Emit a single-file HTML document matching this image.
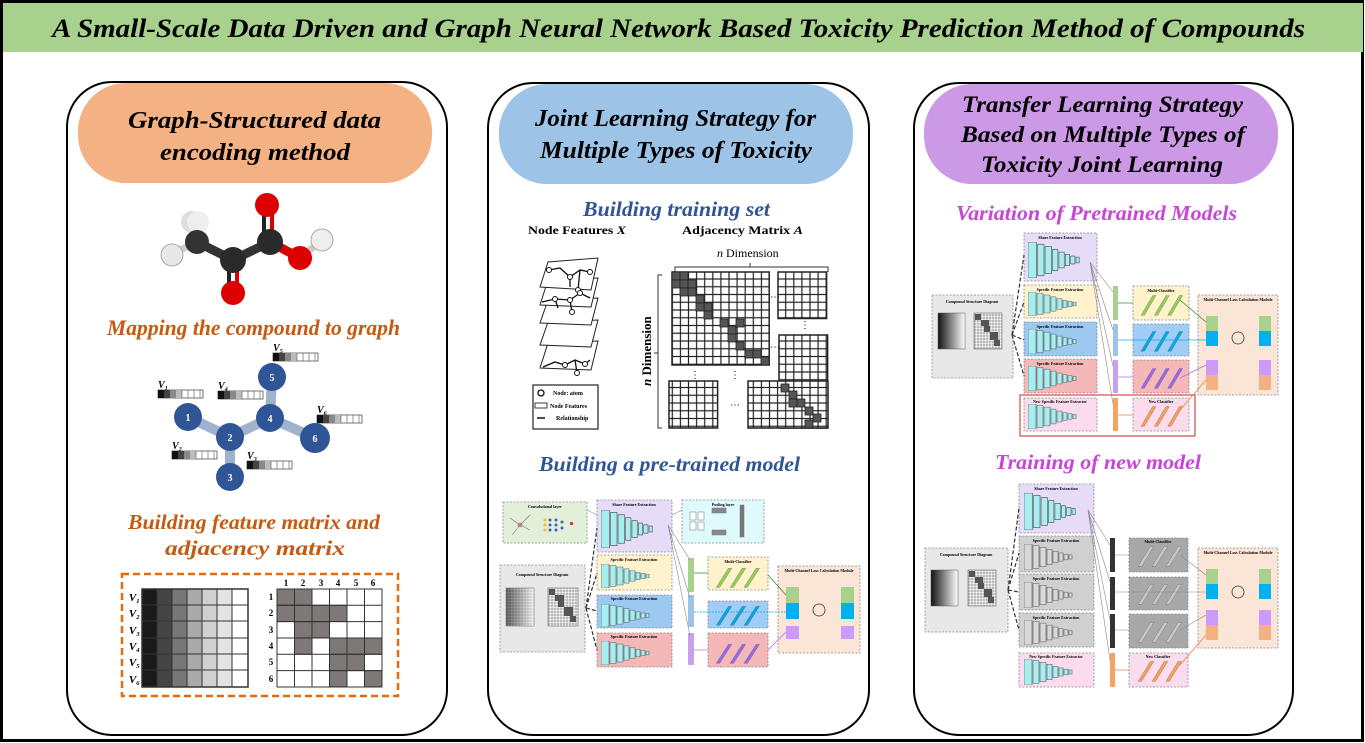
<!DOCTYPE html>
<html><head><meta charset="utf-8"><style>
html,body{margin:0;padding:0;background:#fff;width:1365px;height:743px;overflow:hidden}
svg{display:block}
.t{font-family:"Liberation Serif",serif;font-weight:bold;font-style:italic}
.s{font-family:"Liberation Serif",serif;font-weight:bold}
</style></head><body>
<svg width="1365" height="743" viewBox="0 0 1365 743" xmlns="http://www.w3.org/2000/svg">
<defs>
<symbol id="pyr" viewBox="0 0 60 32" preserveAspectRatio="none">
<g fill="currentColor" stroke="#555" stroke-width="0.6">
<rect x="0" y="0" width="8" height="32"/><rect x="9" y="2" width="6" height="28"/><rect x="16" y="4" width="6" height="24"/><rect x="23" y="6.5" width="5" height="19"/><rect x="29" y="9" width="5" height="14"/><rect x="35" y="11" width="4" height="10"/><rect x="40" y="12.5" width="4" height="7"/><rect x="45" y="13.5" width="3" height="5"/></g>
</symbol>
<symbol id="cls" viewBox="0 0 60 30" preserveAspectRatio="none">
<g fill="currentColor" stroke="#666" stroke-width="0.4">
<polygon points="6,27 20,5 24,5 10,27"/><polygon points="22,27 36,5 40,5 26,27"/><polygon points="38,27 52,5 56,5 42,27"/></g>
</symbol>
<g id="fb">
<rect x="0" y="0" width="45" height="8" fill="#fff" stroke="#555" stroke-width="0.8"/>
<rect x="0" y="0" width="6" height="8" fill="#111"/><rect x="6" y="0" width="6" height="8" fill="#444"/><rect x="12" y="0" width="6" height="8" fill="#888"/><rect x="18" y="0" width="6" height="8" fill="#bbb"/>
<path d="M24 0v8M30 0v8M36 0v8M42 0v8" stroke="#555" stroke-width="0.6"/></g>
<pattern id="g8" width="8.1" height="7.75" patternUnits="userSpaceOnUse"><rect width="8.1" height="7.75" fill="#fff" stroke="#222" stroke-width="1.2"/></pattern>
<pattern id="g3" width="3" height="3" patternUnits="userSpaceOnUse"><rect width="3" height="3" fill="#fff" stroke="#444" stroke-width="0.4"/></pattern>
<linearGradient id="fm" x1="0" x2="1"><stop offset="0" stop-color="#111"/><stop offset="1" stop-color="#fff"/></linearGradient>
</defs>

<!-- frame -->
<rect x="1.5" y="1.5" width="1361" height="739" fill="none" stroke="#000" stroke-width="3"/>
<rect x="3" y="3" width="1360" height="49" fill="#a9d18e"/>
<text class="t" x="52" y="37" font-size="26" textLength="1253" lengthAdjust="spacingAndGlyphs">A Small-Scale Data Driven and Graph Neural Network Based Toxicity Prediction Method of Compounds</text>

<!-- panels -->
<rect x="67" y="82" width="380" height="653" rx="45" fill="none" stroke="#000" stroke-width="2"/>
<rect x="488" y="83" width="381" height="652" rx="45" fill="none" stroke="#000" stroke-width="2"/>
<rect x="914" y="83" width="379" height="652" rx="45" fill="none" stroke="#000" stroke-width="2"/>

<rect x="78" y="83" width="354" height="100" rx="48" fill="#f4b183"/>
<text class="t" x="128" y="128" font-size="24" textLength="253" lengthAdjust="spacingAndGlyphs">Graph-Structured data</text>
<text class="t" x="160" y="160" font-size="24" textLength="190" lengthAdjust="spacingAndGlyphs">encoding method</text>

<rect x="499" y="84" width="354" height="100" rx="48" fill="#9dc3e6"/>
<text class="t" x="535" y="126" font-size="24" textLength="281" lengthAdjust="spacingAndGlyphs">Joint Learning Strategy for</text>
<text class="t" x="540" y="158" font-size="24" textLength="272" lengthAdjust="spacingAndGlyphs">Multiple Types of Toxicity</text>

<rect x="924" y="84" width="354" height="100" rx="48" fill="#cc99e6"/>
<text class="t" x="962" y="112" font-size="23" textLength="281" lengthAdjust="spacingAndGlyphs">Transfer Learning Strategy</text>
<text class="t" x="961" y="142" font-size="23" textLength="284" lengthAdjust="spacingAndGlyphs">Based on Multiple Types of</text>
<text class="t" x="981" y="172" font-size="23" textLength="242" lengthAdjust="spacingAndGlyphs">Toxicity Joint Learning</text>

<!-- LEFT: molecule -->
<g stroke-linecap="round">
<line x1="197" y1="242" x2="233" y2="260" stroke="#333" stroke-width="9"/>
<line x1="233" y1="260" x2="270" y2="242" stroke="#333" stroke-width="9"/>
<line x1="270" y1="242" x2="300" y2="258" stroke="#d00" stroke-width="9"/>
<line x1="300" y1="258" x2="322" y2="240" stroke="#ccc" stroke-width="7"/>
<line x1="264" y1="242" x2="264" y2="208" stroke="#222" stroke-width="4"/><line x1="272" y1="242" x2="272" y2="208" stroke="#d00" stroke-width="4"/>
<line x1="229" y1="260" x2="229" y2="292" stroke="#222" stroke-width="4"/><line x1="237" y1="260" x2="237" y2="292" stroke="#d00" stroke-width="4"/>
<line x1="197" y1="242" x2="172" y2="254" stroke="#ccc" stroke-width="7"/>
</g>
<circle cx="192" cy="222" r="11" fill="#ddd"/><circle cx="198" cy="222" r="11" fill="#eee"/>
<circle cx="172" cy="255" r="11" fill="#e8e8e8" stroke="#aaa"/>
<circle cx="197" cy="242" r="12" fill="#333"/>
<circle cx="233" cy="260" r="13" fill="#2a2a2a"/>
<circle cx="270" cy="242" r="13" fill="#2a2a2a"/>
<circle cx="267" cy="205" r="12" fill="#d00"/>
<circle cx="233" cy="293" r="12" fill="#d00"/>
<circle cx="300" cy="258" r="12" fill="#d00"/>
<circle cx="322" cy="240" r="11" fill="#eee" stroke="#aaa"/>

<text class="t" x="107" y="335" font-size="22" fill="#c55a11" textLength="293" lengthAdjust="spacingAndGlyphs">Mapping the compound to graph</text>

<!-- graph -->
<g stroke="#9fb3cc" stroke-width="10">
<line x1="188" y1="417" x2="230" y2="437"/><line x1="230" y1="437" x2="270" y2="418"/><line x1="230" y1="437" x2="230" y2="477"/><line x1="270" y1="418" x2="272" y2="377"/><line x1="270" y1="418" x2="315" y2="438"/></g>
<g fill="#2f5597"><circle cx="188" cy="417" r="14"/><circle cx="230" cy="437" r="14"/><circle cx="230" cy="477" r="14"/><circle cx="270" cy="418" r="14"/><circle cx="272" cy="377" r="14"/><circle cx="315" cy="438" r="15"/></g>
<g fill="#fff" font-family="Liberation Serif" font-size="10" font-weight="bold" text-anchor="middle">
<text x="188" y="421">1</text><text x="230" y="441">2</text><text x="230" y="481">3</text><text x="270" y="422">4</text><text x="272" y="381">5</text><text x="315" y="442">6</text></g>
<use href="#fb" x="273" y="353"/><use href="#fb" x="158" y="390"/><use href="#fb" x="218" y="391"/><use href="#fb" x="317" y="415"/><use href="#fb" x="172" y="451"/><use href="#fb" x="247" y="461"/>
<g class="t" font-size="10">
<text x="273" y="351">V₅</text><text x="158" y="388">V₁</text><text x="218" y="389">V₄</text><text x="317" y="413">V₆</text><text x="172" y="449">V₂</text><text x="247" y="459">V₃</text></g>

<text class="t" x="128" y="529" font-size="21" fill="#c55a11" textLength="252" lengthAdjust="spacingAndGlyphs">Building feature matrix and</text>
<text class="t" x="165" y="555" font-size="21" fill="#c55a11" textLength="180" lengthAdjust="spacingAndGlyphs">adjacency matrix</text>

<rect x="122" y="574" width="276" height="122" fill="none" stroke="#e46c0a" stroke-width="2.5" stroke-dasharray="7,4"/>
<g stroke="#333" stroke-width="1">
<g><rect x="142" y="589" width="15" height="98" fill="#1a1a1a"/><rect x="157" y="589" width="15" height="98" fill="#444"/><rect x="172" y="589" width="15" height="98" fill="#777"/><rect x="187" y="589" width="15" height="98" fill="#aaa"/><rect x="202" y="589" width="15" height="98" fill="#d0d0d0"/><rect x="217" y="589" width="15" height="98" fill="#e4e4e4"/><rect x="232" y="589" width="16" height="98" fill="#fff"/></g>
<path d="M142 605h106M142 621h106M142 638h106M142 654h106M142 670h106" fill="none"/>
<rect x="142" y="589" width="106" height="98" fill="none" stroke-width="1.5"/>
</g>
<g class="t" font-size="11" font-weight="normal" text-anchor="end">
<text x="140" y="601">V₁</text><text x="140" y="617">V₂</text><text x="140" y="634">V₃</text><text x="140" y="650">V₄</text><text x="140" y="666">V₅</text><text x="140" y="683">V₆</text></g>
<g fill="#fff" stroke="#333" stroke-width="1">
<rect x="277" y="589" width="105" height="98"/></g>
<g fill="#7f7878" stroke="#333" stroke-width="1">
<rect x="277" y="589" width="17.5" height="16.3"/><rect x="294.5" y="589" width="17.5" height="16.3"/>
<rect x="277" y="605.3" width="17.5" height="16.3"/><rect x="294.5" y="605.3" width="17.5" height="16.3"/><rect x="312" y="605.3" width="17.5" height="16.3"/><rect x="329.5" y="605.3" width="17.5" height="16.3"/>
<rect x="294.5" y="621.6" width="17.5" height="16.3"/><rect x="312" y="621.6" width="17.5" height="16.3"/>
<rect x="294.5" y="638" width="17.5" height="16.3"/><rect x="329.5" y="638" width="17.5" height="16.3"/><rect x="347" y="638" width="17.5" height="16.3"/><rect x="364.5" y="638" width="17.5" height="16.3"/>
<rect x="329.5" y="654.3" width="17.5" height="16.3"/><rect x="347" y="654.3" width="17.5" height="16.3"/>
<rect x="329.5" y="670.6" width="17.5" height="16.3"/><rect x="364.5" y="670.6" width="17.5" height="16.3"/></g>
<path d="M294.5 589v98M312 589v98M329.5 589v98M347 589v98M364.5 589v98M277 605.3h105M277 621.6h105M277 638h105M277 654.3h105M277 670.6h105" stroke="#333" stroke-width="1" fill="none"/>
<g class="s" font-size="9" text-anchor="middle">
<text x="286" y="586">1</text><text x="303" y="586">2</text><text x="321" y="586">3</text><text x="338" y="586">4</text><text x="356" y="586">5</text><text x="373" y="586">6</text>
<text x="271" y="600">1</text><text x="271" y="616">2</text><text x="271" y="633">3</text><text x="271" y="649">4</text><text x="271" y="665">5</text><text x="271" y="682">6</text></g>

<!-- MIDDLE: training set -->
<text class="t" x="583" y="216" font-size="21" fill="#2f5597" textLength="187" lengthAdjust="spacingAndGlyphs">Building training set</text>
<text class="s" x="528" y="234" font-size="12" textLength="98" lengthAdjust="spacingAndGlyphs">Node Features <tspan font-style="italic">X</tspan></text>
<text class="s" x="682" y="234" font-size="12" textLength="121" lengthAdjust="spacingAndGlyphs">Adjacency Matrix <tspan font-style="italic">A</tspan></text>
<g fill="#fff" stroke="#222" stroke-width="1">
<polygon points="540,368 548,343 598,341 591,370"/>
<polygon points="540,345 548,322 598,320 591,347"/>
<polygon points="540,323 548,300 598,298 591,325"/>
<polygon points="540,305 548,280 598,278 591,307"/>
<polygon points="540,287 548,262 598,258 591,290"/></g>
<path d="M549 270 L560 268 L570 277 L580 270 L590 272 M570 277 L570 287 M580 270 L578 290" stroke="#111" stroke-width="1.3" fill="none"/>
<path d="M542 302 L555 299 L570 300 L580 293 L590 298 M555 299 L558 308 M570 300 L572 312" stroke="#111" stroke-width="1.3" fill="none"/>
<path d="M543 367 L555 362 L565 365 L575 360 L585 364 L590 360 M575 360 L577 373" stroke="#111" stroke-width="1.3" fill="none"/>
<g fill="#fff" stroke="#111" stroke-width="1"><circle cx="549" cy="270" r="2.5"/><circle cx="570" cy="277" r="2.5"/><circle cx="590" cy="272" r="2.5"/><circle cx="578" cy="290" r="2.5"/><circle cx="555" cy="299" r="2.5"/><circle cx="570" cy="300" r="2.5"/><circle cx="580" cy="293" r="2.5"/><circle cx="572" cy="312" r="2.5"/><circle cx="565" cy="365" r="2.5"/><circle cx="585" cy="364" r="2.5"/><circle cx="577" cy="373" r="2.5"/></g>
<rect x="533" y="385" width="65" height="44" fill="#fff" stroke="#222" stroke-width="1.2"/>
<circle cx="541" cy="393" r="3" fill="none" stroke="#111" stroke-width="1.3"/>
<rect x="535" y="403" width="12" height="5" fill="none" stroke="#111" stroke-width="0.8"/>
<line x1="537" y1="418" x2="545" y2="418" stroke="#111" stroke-width="1.5"/>
<g class="s" font-size="6"><text x="553" y="395">Node: atom</text><text x="550" y="408">Node Features</text><text x="556" y="420">Relationship</text></g>

<text x="717" y="257" font-family="Liberation Serif" font-size="12"><tspan font-style="italic">n</tspan> Dimension</text>
<path d="M675 272 v-5 h153 v5 M750 267 v-4" stroke="#333" fill="none"/>
<path d="M662 275 h-4 v153 h4 M658 353 h-4" stroke="#333" fill="none"/>
<text transform="translate(651,386) rotate(-90)" font-family="Liberation Serif" font-size="13" font-weight="bold"><tspan font-style="italic">n</tspan> Dimension</text>
<rect x="672" y="272" width="97.2" height="93" fill="url(#g8)" stroke="#222" stroke-width="1.5"/>
<rect x="778" y="272" width="48.6" height="46.5" fill="url(#g8)" stroke="#222" stroke-width="1.5"/>
<rect x="779" y="335" width="48.6" height="93" fill="url(#g8)" stroke="#222" stroke-width="1.5"/>
<rect x="748" y="381" width="80" height="47" fill="url(#g8)" stroke="#222" stroke-width="1.5"/>
<rect x="669" y="381" width="48.6" height="47" fill="url(#g8)" stroke="#222" stroke-width="1.5"/>
<g fill="#555" stroke="#222" stroke-width="0.8">
<rect x="672" y="272" width="8" height="8"/><rect x="680" y="272" width="8" height="8"/><rect x="672" y="280" width="8" height="8"/><rect x="680" y="280" width="8" height="8"/><rect x="688" y="280" width="8" height="8"/><rect x="688" y="288" width="8" height="8"/><rect x="680" y="288" width="8" height="8"/><rect x="696" y="295" width="8" height="8"/><rect x="704" y="303" width="8" height="8"/><rect x="696" y="303" width="8" height="8"/><rect x="704" y="311" width="8" height="8"/><rect x="720" y="319" width="8" height="8"/><rect x="728" y="326" width="8" height="8"/><rect x="736" y="319" width="8" height="8"/><rect x="728" y="334" width="8" height="8"/><rect x="736" y="342" width="8" height="8"/><rect x="745" y="350" width="8" height="8"/><rect x="753" y="350" width="8" height="8"/><rect x="761" y="357" width="8" height="8"/><rect x="781" y="384" width="8" height="8"/><rect x="789" y="391" width="8" height="8"/><rect x="797" y="399" width="8" height="8"/><rect x="805" y="407" width="8" height="8"/><rect x="813" y="414" width="8" height="8"/><rect x="805" y="420" width="8" height="8"/><rect x="789" y="399" width="8" height="8"/></g>
<g font-size="10" font-family="Liberation Serif"><text x="770" y="300">⋯</text><text x="770" y="350">⋯</text><text x="730" y="408">⋯</text><text x="800" y="328">⋮</text><text x="690" y="378">⋮</text><text x="730" y="378">⋮</text></g>

<text class="t" x="539" y="471" font-size="21" fill="#2f5597" textLength="261" lengthAdjust="spacingAndGlyphs">Building a pre-trained model</text>

<!-- middle diagram -->
<g stroke="#888" stroke-dasharray="2,1.5" stroke-width="0.8">
<rect x="503" y="502" width="84" height="41" fill="#e2f0d9"/>
<rect x="597" y="500" width="75" height="52" fill="#e6dcf7"/>
<rect x="682" y="500" width="82" height="43" fill="#dffafd"/>
<rect x="500" y="565" width="85" height="87" fill="#e8e8e8"/>
<rect x="597" y="555" width="75" height="35" fill="#fff2cc"/>
<rect x="597" y="595" width="75" height="33" fill="#9dc8f0"/>
<rect x="597" y="633" width="75" height="34" fill="#f4b8b8"/>
<rect x="708" y="557" width="60" height="33" fill="#fff2cc"/>
<rect x="708" y="601" width="60" height="27" fill="#a0cdf5"/>
<rect x="708" y="633" width="60" height="34" fill="#f4b8b8"/>
<rect x="778" y="566" width="82" height="87" fill="#fbe5d6"/></g>
<g font-family="Liberation Serif" font-size="4" font-weight="bold" text-anchor="middle">
<text x="545" y="508">Convolutional layer</text><text x="634" y="506">Share Feature Extraction</text><text x="723" y="506">Pooling layer</text>
<text x="542" y="576">Compound Structure Diagram</text><text x="634" y="561">Specific Feature Extraction</text><text x="634" y="600">Specific Feature Extraction</text><text x="634" y="638">Specific Feature Extraction</text>
<text x="738" y="563">Multi-Classifier</text><text x="819" y="572">Multi-Channel Loss Calculation Module</text></g>
<g stroke="#777" stroke-width="0.6" fill="#fff"><circle cx="520" cy="525" r="2" fill="#f99"/><line x1="510" y1="518" x2="520" y2="525"/><line x1="512" y1="535" x2="520" y2="525"/><line x1="530" y1="530" x2="520" y2="525"/><line x1="530" y1="515" x2="520" y2="525"/></g>
<g fill="#4060c0"><circle cx="550" cy="520" r="1.5"/><circle cx="550" cy="525" r="1.5"/><circle cx="550" cy="530" r="1.5"/><circle cx="556" cy="520" r="1.5"/><circle cx="556" cy="525" r="1.5"/><circle cx="556" cy="530" r="1.5"/><circle cx="562" cy="522" r="1.5"/><circle cx="562" cy="528" r="1.5"/></g>
<g fill="#f0c020"><circle cx="545" cy="520" r="1.5"/><circle cx="545" cy="525" r="1.5"/><circle cx="545" cy="530" r="1.5"/></g>
<rect x="570" y="522" width="3" height="3" fill="#e33"/>
<g fill="#fff" stroke="#777" stroke-width="0.5"><rect x="690" y="512" width="6" height="8"/><rect x="690" y="522" width="6" height="8"/><rect x="698" y="512" width="6" height="8"/><rect x="698" y="522" width="6" height="8"/><rect x="712" y="508" width="14" height="5" fill="#888"/><rect x="712" y="530" width="14" height="5" fill="#888"/><rect x="740" y="505" width="4" height="32" fill="#777"/></g>
<use href="#pyr" x="601" y="510" width="64" height="38" color="#a6eef0"/>
<use href="#pyr" x="601" y="564" width="60" height="24" color="#a6eef0"/>
<use href="#pyr" x="601" y="604" width="60" height="23" color="#a6eef0"/>
<use href="#pyr" x="601" y="641" width="60" height="24" color="#a6eef0"/>
<rect x="506" y="588" width="28" height="38" fill="url(#fm)" stroke="#555" stroke-width="0.5"/>
<rect x="506" y="588" width="28" height="38" fill="url(#g3)" opacity="0.4"/>
<rect x="548" y="588" width="30" height="38" fill="url(#g3)" stroke="#555" stroke-width="0.5"/>
<g fill="#555"><rect x="549" y="589" width="6" height="6"/><rect x="555" y="595" width="9" height="6"/><rect x="558" y="601" width="6" height="6"/><rect x="564" y="607" width="9" height="9"/><rect x="570" y="616" width="6" height="6"/></g>
<g fill="#a9d18e"><rect x="688" y="558" width="6" height="34"/></g><rect x="688" y="595" width="6" height="32" fill="#9dc3e6"/><rect x="688" y="633" width="6" height="32" fill="#c9a0f0"/>
<use href="#cls" x="711" y="564" width="52" height="26" color="#92d050"/>
<use href="#cls" x="711" y="602" width="52" height="26" color="#00a8e8"/>
<use href="#cls" x="711" y="640" width="52" height="26" color="#9966ee"/>
<rect x="786" y="587" width="13" height="16" fill="#a9d18e"/><rect x="786" y="603" width="13" height="16" fill="#00b0f0"/><rect x="786" y="626" width="13" height="13" fill="#cc99ff"/>
<rect x="841" y="587" width="13" height="16" fill="#a9d18e"/><rect x="841" y="603" width="13" height="16" fill="#00b0f0"/><rect x="841" y="626" width="13" height="13" fill="#cc99ff"/>
<circle cx="819" cy="610" r="6" fill="none" stroke="#333" stroke-width="0.8"/>
<g stroke="#333" stroke-width="1.2" stroke-dasharray="4,2" fill="none"><path d="M586 608 L597 528 M586 608 L597 573 M586 608 L597 611 M586 608 L597 650"/></g>
<g stroke="#888" stroke-width="0.6" fill="none"><path d="M668 525 L690 560 M668 525 L690 598 M668 525 L690 636 M587 510 L597 515 M672 515 L682 510"/></g>
<path d="M694 573 H708 M768 575 L786 595" stroke="#3a8a2a" stroke-width="0.8"/><path d="M694 612 H786" stroke="#00b0f0" stroke-width="0.8" stroke-dasharray="2,1"/><path d="M694 650 H708 M768 650 L786 632" stroke="#b070f0" stroke-width="0.8"/>

<!-- RIGHT -->
<text class="t" x="956" y="220" font-size="21" fill="#c845d8" textLength="281" lengthAdjust="spacingAndGlyphs">Variation of Pretrained Models</text>
<text class="t" x="995" y="469" font-size="21" fill="#c845d8" textLength="206" lengthAdjust="spacingAndGlyphs">Training of new model</text>

<!-- diagram 1 -->
<g stroke="#888" stroke-dasharray="2,1.5" stroke-width="0.8">
<rect x="1024" y="233" width="73" height="48" fill="#e6dcf7"/>
<rect x="932" y="295" width="81" height="83" fill="#e8e8e8"/>
<rect x="1024" y="285" width="73" height="33" fill="#fff2cc"/>
<rect x="1024" y="322" width="73" height="34" fill="#9dc8f0"/>
<rect x="1024" y="359" width="73" height="34" fill="#f4b8b8"/>
<rect x="1024" y="398" width="73" height="33" fill="#fbdcee"/>
<rect x="1133" y="286" width="56" height="34" fill="#fff2cc"/>
<rect x="1133" y="324" width="56" height="32" fill="#a0cdf5"/>
<rect x="1133" y="360" width="56" height="33" fill="#f4b8b8"/>
<rect x="1133" y="398" width="56" height="33" fill="#fbdcee"/>
<rect x="1198" y="295" width="80" height="100" fill="#fbe5d6"/></g>
<rect x="1020" y="395" width="175" height="41" fill="none" stroke="#d04848" stroke-width="1.2"/>
<use href="#pyr" x="1028" y="242" width="64" height="36" color="#a6eef0"/>
<use href="#pyr" x="1028" y="292" width="60" height="24" color="#a6eef0"/>
<use href="#pyr" x="1028" y="329" width="60" height="25" color="#a6eef0"/>
<use href="#pyr" x="1028" y="366" width="60" height="25" color="#a6eef0"/>
<use href="#pyr" x="1028" y="404" width="60" height="25" color="#a6eef0"/>
<rect x="1113" y="286" width="5" height="34" fill="#a9d18e"/><rect x="1113" y="324" width="5" height="32" fill="#9dc3e6"/><rect x="1113" y="360" width="5" height="33" fill="#c9a0f0"/><rect x="1113" y="398" width="5" height="33" fill="#f4a460"/>
<use href="#cls" x="1136" y="291" width="50" height="27" color="#92d050"/>
<use href="#cls" x="1136" y="327" width="50" height="27" color="#00a8e8"/>
<use href="#cls" x="1136" y="364" width="50" height="27" color="#9966ee"/>
<use href="#cls" x="1136" y="402" width="50" height="27" color="#f8a050"/>
<rect x="938" y="313" width="27" height="36" fill="url(#fm)" stroke="#555" stroke-width="0.5"/>
<rect x="974" y="313" width="28" height="36" fill="url(#g3)" stroke="#555" stroke-width="0.5"/>
<g fill="#555"><rect x="975" y="314" width="6" height="6"/><rect x="981" y="320" width="8" height="6"/><rect x="984" y="326" width="6" height="6"/><rect x="990" y="332" width="8" height="8"/><rect x="994" y="340" width="6" height="6"/></g>
<rect x="1206" y="316" width="12" height="15" fill="#a9d18e"/><rect x="1206" y="331" width="12" height="15" fill="#00b0f0"/><rect x="1206" y="360" width="12" height="15" fill="#cc99ff"/><rect x="1206" y="375" width="12" height="15" fill="#f4b183"/>
<rect x="1259" y="316" width="12" height="15" fill="#a9d18e"/><rect x="1259" y="331" width="12" height="15" fill="#00b0f0"/><rect x="1259" y="360" width="12" height="15" fill="#cc99ff"/><rect x="1259" y="375" width="12" height="15" fill="#f4b183"/>
<circle cx="1238" cy="338" r="6" fill="none" stroke="#333" stroke-width="0.8"/>
<g stroke="#333" stroke-width="1.2" stroke-dasharray="4,2" fill="none"><path d="M1012 335 L1024 255 M1012 335 L1024 302 M1012 335 L1024 340 M1012 335 L1024 376"/></g>
<g stroke="#888" stroke-width="0.6" fill="none"><path d="M1090 262 L1113 292 M1090 262 L1113 330 M1090 262 L1113 366 M1090 262 L1113 404"/></g>
<path d="M1118 303 H1133 M1180 300 L1206 322" stroke="#3a8a2a" stroke-width="0.8"/><path d="M1118 340 H1206" stroke="#00b0f0" stroke-width="0.8"/><path d="M1118 377 H1133 M1180 378 L1206 365" stroke="#b070f0" stroke-width="0.8"/><path d="M1118 415 H1133 M1180 410 L1206 380" stroke="#f08040" stroke-width="0.8"/>
<g font-family="Liberation Serif" font-size="4" font-weight="bold" text-anchor="middle">
<text x="1060" y="239">Share Feature Extraction</text><text x="972" y="303">Compound Structure Diagram</text><text x="1060" y="291">Specific Feature Extraction</text><text x="1060" y="328">Specific Feature Extraction</text><text x="1060" y="365">Specific Feature Extraction</text><text x="1060" y="403">New Specific Feature Extractor</text><text x="1161" y="292">Multi-Classifier</text><text x="1161" y="403">New Classifier</text><text x="1238" y="301">Multi-Channel Loss Calculation Module</text></g>

<!-- diagram 2 -->
<g stroke="#888" stroke-dasharray="2,1.5" stroke-width="0.8">
<rect x="1019" y="484" width="75" height="49" fill="#e6dcf7"/>
<rect x="925" y="548" width="83" height="84" fill="#e8e8e8"/>
<rect x="1019" y="536" width="75" height="36" fill="#d0d0d0"/>
<rect x="1019" y="574" width="75" height="36" fill="#d0d0d0"/>
<rect x="1019" y="613" width="75" height="34" fill="#d0d0d0"/>
<rect x="1019" y="653" width="75" height="34" fill="#fbdcee"/>
<rect x="1129" y="538" width="59" height="34" fill="#a8a8a8"/>
<rect x="1129" y="577" width="59" height="33" fill="#a8a8a8"/>
<rect x="1129" y="614" width="59" height="34" fill="#a8a8a8"/>
<rect x="1129" y="653" width="59" height="34" fill="#fbdcee"/>
<rect x="1198" y="548" width="80" height="100" fill="#fbe5d6"/></g>
<use href="#pyr" x="1024" y="493" width="64" height="37" color="#a6eef0"/>
<use href="#pyr" x="1024" y="544" width="60" height="26" color="#d8d8d8"/>
<use href="#pyr" x="1024" y="582" width="60" height="26" color="#d8d8d8"/>
<use href="#pyr" x="1024" y="620" width="60" height="25" color="#d8d8d8"/>
<use href="#pyr" x="1024" y="659" width="60" height="26" color="#a6eef0"/>
<rect x="1110" y="538" width="5" height="34" fill="#333"/><rect x="1110" y="577" width="5" height="33" fill="#333"/><rect x="1110" y="614" width="5" height="34" fill="#333"/><rect x="1110" y="653" width="5" height="34" fill="#f4a460"/>
<use href="#cls" x="1133" y="542" width="52" height="27" color="#c8c8c8"/>
<use href="#cls" x="1133" y="580" width="52" height="27" color="#c8c8c8"/>
<use href="#cls" x="1133" y="618" width="52" height="27" color="#c8c8c8"/>
<use href="#cls" x="1133" y="657" width="52" height="27" color="#f8a050"/>
<rect x="931" y="570" width="27" height="36" fill="url(#fm)" stroke="#555" stroke-width="0.5"/>
<rect x="968" y="570" width="28" height="36" fill="url(#g3)" stroke="#555" stroke-width="0.5"/>
<g fill="#555"><rect x="969" y="571" width="6" height="6"/><rect x="975" y="577" width="8" height="6"/><rect x="978" y="583" width="6" height="6"/><rect x="984" y="589" width="8" height="8"/><rect x="988" y="597" width="6" height="6"/></g>
<rect x="1206" y="569" width="12" height="15" fill="#a9d18e"/><rect x="1206" y="584" width="12" height="15" fill="#00b0f0"/><rect x="1206" y="610" width="12" height="15" fill="#cc99ff"/><rect x="1206" y="625" width="12" height="15" fill="#f4b183"/>
<rect x="1259" y="569" width="12" height="15" fill="#a9d18e"/><rect x="1259" y="584" width="12" height="15" fill="#00b0f0"/><rect x="1259" y="610" width="12" height="15" fill="#cc99ff"/><rect x="1259" y="625" width="12" height="15" fill="#f4b183"/>
<circle cx="1238" cy="592" r="6" fill="none" stroke="#333" stroke-width="0.8"/>
<g stroke="#333" stroke-width="1.2" stroke-dasharray="4,2" fill="none"><path d="M1008 590 L1019 508 M1008 590 L1019 553 M1008 590 L1019 592 M1008 590 L1019 630"/></g>
<g stroke="#888" stroke-width="0.6" fill="none"><path d="M1088 510 L1110 545 M1088 510 L1110 582 M1088 510 L1110 620 M1088 510 L1110 660 M1115 555 H1129 M1180 555 L1206 575 M1115 592 H1206 M1115 630 H1129 M1180 630 L1206 615"/></g>
<path d="M1115 670 H1129 M1180 665 L1206 635" stroke="#f08040" stroke-width="0.8"/>
<g font-family="Liberation Serif" font-size="4" font-weight="bold" text-anchor="middle">
<text x="1056" y="490">Share Feature Extraction</text><text x="966" y="556">Compound Structure Diagram</text><text x="1056" y="542">Specific Feature Extraction</text><text x="1056" y="580">Specific Feature Extraction</text><text x="1056" y="619">Specific Feature Extraction</text><text x="1056" y="658">New Specific Feature Extractor</text><text x="1158" y="543">Multi-Classifier</text><text x="1158" y="658">New Classifier</text><text x="1238" y="554">Multi-Channel Loss Calculation Module</text></g>
</svg>
</body></html>
